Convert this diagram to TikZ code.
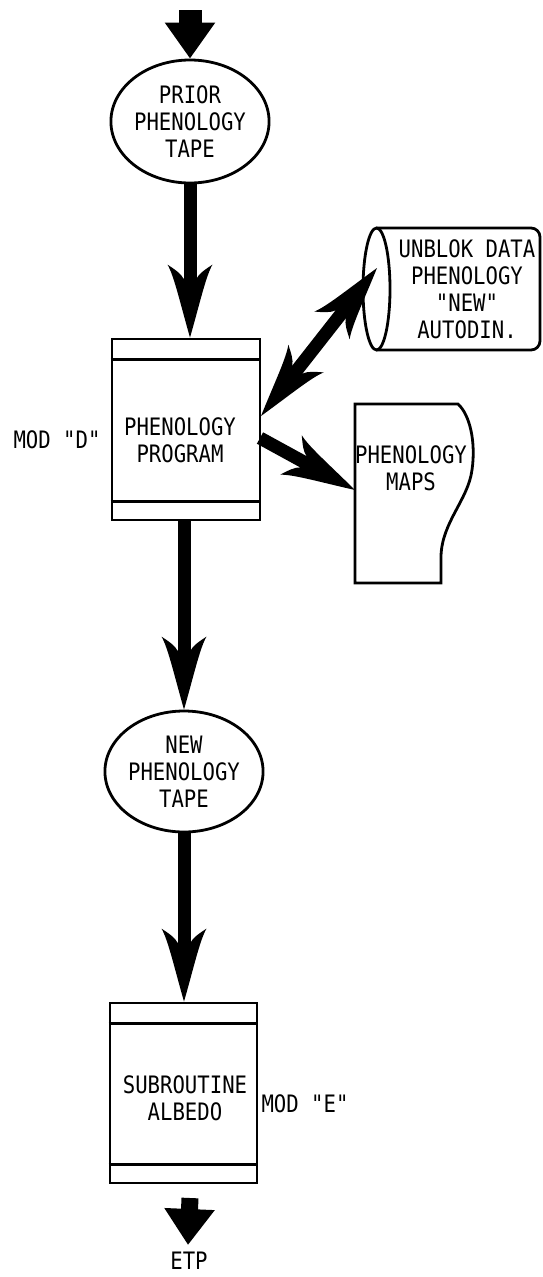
\documentclass[tikz,border=0pt]{standalone}
\usepackage{fontspec}
\newfontfamily\lero[FakeStretch=0.86]{DejaVu Sans Mono}
\usetikzlibrary{arrows.meta,shapes.geometric}
\pgfdeclarearrow{
  name=Barb,
  setup code={
    \pgfarrowssettipend{0pt}
    \pgfarrowssetlineend{-45pt}
    \pgfarrowssetvisualbackend{-73pt}
    \pgfarrowssetbackend{-73pt}
    \pgfarrowshullpoint{0pt}{0pt}
    \pgfarrowshullpoint{-73pt}{22.5pt}
    \pgfarrowshullpoint{-73pt}{-22.5pt}
  },
  drawing code={
    \pgfpathmoveto{\pgfqpoint{0pt}{0pt}}
    \pgfpathcurveto{\pgfqpoint{-35pt}{10pt}}{\pgfqpoint{-62pt}{16pt}}{\pgfqpoint{-73pt}{22.5pt}}
    \pgfpathcurveto{\pgfqpoint{-68pt}{15pt}}{\pgfqpoint{-64pt}{9pt}}{\pgfqpoint{-59pt}{6.5pt}}
    \pgfpathlineto{\pgfqpoint{-59pt}{-6.5pt}}
    \pgfpathcurveto{\pgfqpoint{-64pt}{-9pt}}{\pgfqpoint{-68pt}{-15pt}}{\pgfqpoint{-73pt}{-22.5pt}}
    \pgfpathcurveto{\pgfqpoint{-62pt}{-16pt}}{\pgfqpoint{-35pt}{-10pt}}{\pgfqpoint{0pt}{0pt}}
    \pgfpathclose
    \pgfusepathqfill
  },
}
\tikzset{
  lbl/.style={font=\lero\fontsize{24}{27}\selectfont, align=center, inner sep=0pt},
  outl/.style={draw, line width=2.8pt},
  tape/.style={ellipse, outl, minimum width=116pt, minimum height=123pt, inner sep=0pt, lbl},
  prog/.style={rectangle, outl, inner sep=0pt},
  flow/.style={line width=13pt, -Barb},
  io/.style={-{Triangle[length=36pt,width=48pt]}},
}
\begin{document}
\begin{tikzpicture}[x=1pt,y=-1pt]
\useasboundingbox (0,0) rectangle (542,1277);
% tape 1
\node[tape] (c1) at (190,121.5) {PRIOR\\PHENOLOGY\\TAPE};
% program box 1
\node[prog, minimum width=148pt, minimum height=181pt] (b1) at (186,429.5) {};
\draw[outl] ([yshift=-22pt]b1.north west) -- ([yshift=-22pt]b1.north east);
\draw[outl] ([yshift=20pt]b1.south west) -- ([yshift=20pt]b1.south east);
\node[lbl] (t1) at (180,440) {PHENOLOGY\\PROGRAM};
\node[lbl] (m1) at (57,440) {MOD "D"};
% cylinder
\draw[outl] (376.5,289) ellipse [x radius=13.5pt, y radius=61pt];
\draw[outl, rounded corners=9pt] (376.5,228) -- (540,228) -- (540,350) -- (376.5,350);
\node[lbl] (cyl) at (467,289.5) {UNBLOK DATA\\PHENOLOGY\\"NEW"\\AUTODIN.};
% document
\draw[outl] (355,404) -- (458,404) .. controls (470,415) and (476,442) .. (472,470)
  .. controls (468,500) and (442,522) .. (441,556) -- (441,583) -- (355,583) -- cycle;
\node[lbl] (doc) at (411,468) {PHENOLOGY\\MAPS};
% tape 2
\node[tape, minimum width=114pt, minimum height=121pt] (c2) at (184,771.5) {NEW\\PHENOLOGY\\TAPE};
% program box 2
\node[prog, minimum width=147pt, minimum height=180pt] (b2) at (183.5,1093) {};
\draw[outl] ([yshift=-22pt]b2.north west) -- ([yshift=-22pt]b2.north east);
\draw[outl] ([yshift=20pt]b2.south west) -- ([yshift=20pt]b2.south east);
\node[lbl] (t2) at (185,1098) {SUBROUTINE\\ALBEDO};
\node[lbl] (m2) at (305,1103.5) {MOD "E"};
\node[lbl, anchor=base] (etp) at (189,1269.5) {ETP};
% connectors
\coordinate (in) at (190,10);
\draw[io, line width=23pt] (in) -- (c1.north);
\draw[flow] (c1.south) -- (c1.south |- b1.north);
\draw[flow] (b1.south -| c2.north) -- (c2.north);
\draw[flow] (c2.south) -- (c2.south |- b2.north);
\coordinate (p1) at (261,416);
\coordinate (q1) at (377,268);
\draw[flow, Barb-Barb] (p1) -- (q1);
\coordinate (p2) at (260,438);
\coordinate (q2) at (355,490);
\draw[flow] (p2) -- (q2);
\coordinate (o1) at (190,1198);
\coordinate (o2) at (188,1245);
\draw[io, line width=17pt] (o1) -- (o2);
\end{tikzpicture}
\end{document}
